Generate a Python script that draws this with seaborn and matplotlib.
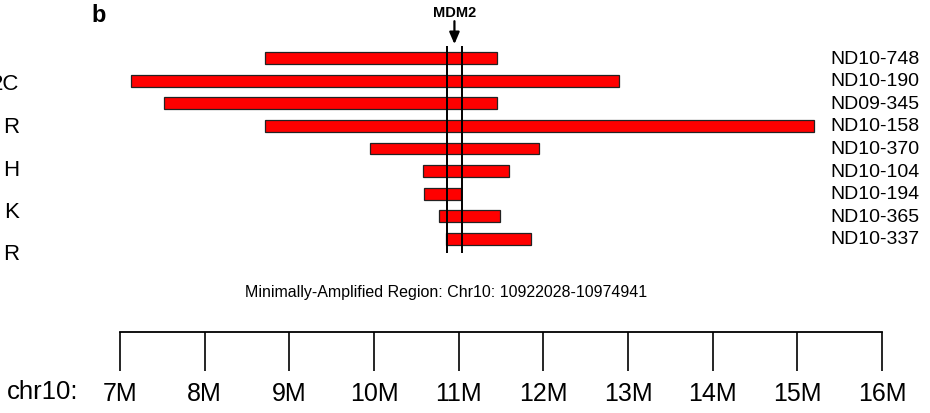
import numpy as np
import pandas as pd
import matplotlib
matplotlib.use("Agg")
import matplotlib.pyplot as plt
import matplotlib.transforms as mtransforms
import seaborn as sns

# ---data (Mb on chr10)---
samples = ["ND10-748", "ND10-190", "ND09-345", "ND10-158", "ND10-370",
           "ND10-104", "ND10-194", "ND10-365", "ND10-337"]
amp_start = [8.71, 7.13, 7.52, 8.71, 9.95, 10.58, 10.59, 10.77, 10.85]
amp_end = [11.45, 12.89, 11.45, 15.20, 11.95, 11.59, 11.03, 11.49, 11.85]
mar_lines = [10.86, 11.04]
tick_mb = [7, 8, 9, 10, 11, 12, 13, 14, 15, 16]
tick_labels = ["7M", "8M", "9M", "10M", "11M", "12M", "13M", "14M", "15M", "16M"]
left_labels = ["2C", "R", "H", "K", "R"]

sns.set_style("white")
plt.rcParams["font.family"] = ["Liberation Sans", "DejaVu Sans"]
plt.rcParams["text.color"] = "black"
plt.rcParams["xtick.color"] = "black"

df = pd.DataFrame({"sample": samples, "start": amp_start, "end": amp_end})
df["span"] = df["end"] - df["start"]

W, H = 930, 414
fig = plt.figure(figsize=(W / 100, H / 100), dpi=100)
ax = fig.add_axes([0, 0, 1, 1])

sns.barplot(data=df, y="sample", x="span", orient="h", color="#ff0000",
            saturation=1, width=0.53, edgecolor="#222222", linewidth=0.9, ax=ax)
# shift bars so each starts at its amplicon start
for p, s in zip(ax.patches, df["start"]):
    p.set_x(s)

# pixel mapping: 7M at x=120, 16M at x=882; rows from y=59 to y=240
px_per_mb = (882 - 120) / 9
ax.set_xlim(7 - 120 / px_per_mb, 7 + (W - 120) / px_per_mb)
row_px = (240 - 59) / (len(samples) - 1)
ax.set_ylim((H - 59) / row_px, -59 / row_px)

# minimally amplified region
n = len(samples)
ax.vlines(mar_lines, -0.53, n - 1 + 0.64, color="black", lw=1.4, zorder=3)
mid = np.mean(mar_lines)
ax.annotate("", xy=(mid, -0.49), xytext=(mid, -1.75),
            arrowprops=dict(arrowstyle="-|>,head_length=0.7,head_width=0.3",
                            color="black", lw=1.6))
ax.text(mid, -2.05, "MDM2", ha="center", va="center", fontsize=10.5,
        fontweight="bold")
ax.text(mid - 0.1, n - 1 + 2.3, "Minimally-Amplified Region: Chr10: 10922028-10974941",
        ha="center", va="center", fontsize=11.5)

# sample names on the right
tr = mtransforms.blended_transform_factory(ax.transAxes, ax.transData)
for i, s in enumerate(samples):
    ax.text(830 / W, i, s, transform=tr, ha="left", va="center", fontsize=14)

# genomic scale at the bottom
scale_y = (333 - 59) / row_px
for side in ["left", "right", "top"]:
    ax.spines[side].set_visible(False)
ax.spines["bottom"].set_position(("data", scale_y))
ax.spines["bottom"].set_bounds(tick_mb[0], tick_mb[-1])
ax.spines["bottom"].set_linewidth(1.3)
ax.spines["bottom"].set_color("black")
ax.set_xticks(tick_mb)
ax.set_xticklabels(tick_labels, fontsize=18)
ax.tick_params(axis="x", direction="out", length=28, width=1.2, pad=7, bottom=True)
ax.set_yticks([])
ax.set_xlabel("")
ax.set_ylabel("")
ax.text(7 / W, 1 - 392 / H, "chr10:", transform=ax.transAxes, ha="left",
        va="center", fontsize=18.5)

# panel letter and clipped labels from neighbouring panel
fig.text(91 / W, 1 - 15 / H, "b", ha="left", va="center", fontsize=17,
         fontweight="bold")
for i, lab in enumerate(left_labels):
    fig.text(19 / W, 1 - (85 + 42.5 * i) / H, lab, ha="right", va="center",
             fontsize=16)

fig.savefig("out.png", dpi=100)
